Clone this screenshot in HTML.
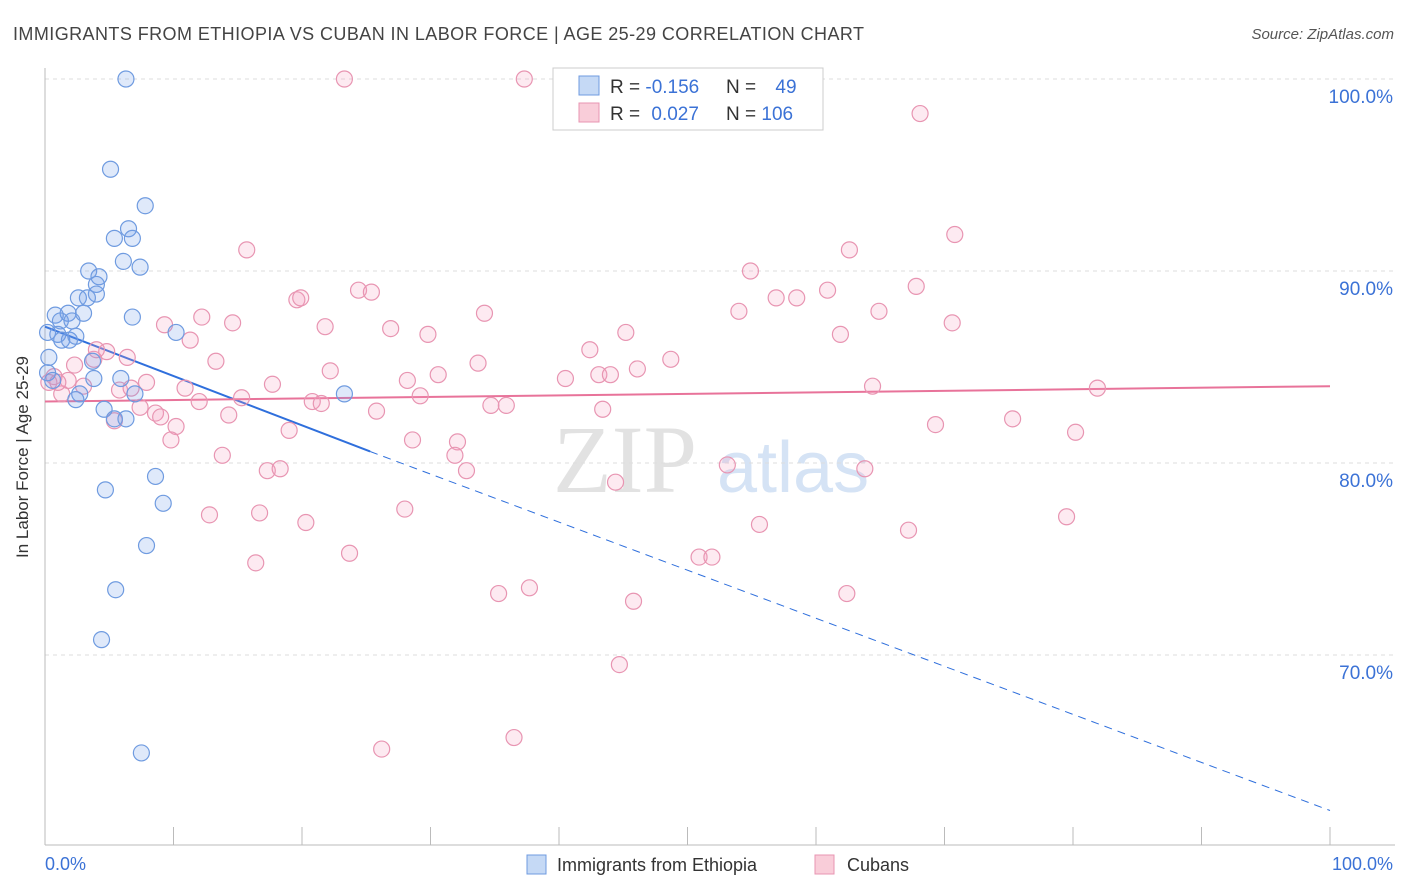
<!DOCTYPE html>
<html><head><meta charset="utf-8">
<style>
body{margin:0;background:#fff;font-family:"Liberation Sans",sans-serif;}
svg{display:block}
</style></head>
<body>
<svg id="chart" width="1406" height="892" viewBox="0 0 1406 892">
<text x="13" y="40" font-size="18" fill="#444" textLength="851" lengthAdjust="spacing">IMMIGRANTS FROM ETHIOPIA VS CUBAN IN LABOR FORCE | AGE 25-29 CORRELATION CHART</text>
<text x="1394" y="39" font-size="15" fill="#555" font-style="italic" text-anchor="end">Source: ZipAtlas.com</text>
<g>
<text x="553" y="492" font-size="96" font-family="Liberation Serif,serif" fill="#e2e2e2">ZIP</text>
<text x="717" y="492" font-size="72" fill="#d5e3f5">atlas</text>
</g>
<g id="grid"></g>
<g id="axes"></g>
<g id="trends"></g>
<g id="points"></g>
<text x="28" y="457" font-size="17" fill="#333" text-anchor="middle" transform="rotate(-90 28 457)">In Labor Force | Age 25-29</text>
<g>
<rect x="553" y="68" width="270" height="62" fill="#fff" stroke="#ccc"/>
<rect x="579" y="76" width="20" height="19" fill="#c5d9f5" stroke="#6f9be0"/>
<rect x="579" y="103" width="20" height="19" fill="#f9cdd9" stroke="#e895b2"/>
<text x="610" y="93" font-size="19" fill="#333">R = <tspan fill="#3b72d6">-0.156</tspan></text>
<text x="726" y="93" font-size="19" fill="#333">N = <tspan fill="#3b72d6" dx="14">49</tspan></text>
<text x="610" y="120" font-size="19" fill="#333">R = <tspan fill="#3b72d6" dx="6">0.027</tspan></text>
<text x="726" y="120" font-size="19" fill="#333">N = <tspan fill="#3b72d6">106</tspan></text>
</g>
<g>
<rect x="527" y="855" width="19" height="19" fill="#c5d9f5" stroke="#6f9be0"/>
<text x="557" y="871" font-size="18" fill="#333">Immigrants from Ethiopia</text>
<rect x="815" y="855" width="19" height="19" fill="#f9cdd9" stroke="#e895b2"/>
<text x="847" y="871" font-size="18" fill="#333">Cubans</text>
</g>
</svg>
<script>
const blueX=[6.3,5.1,7.8,6.5,5.4,6.8,6.1,7.4,3.4,4.2,4.0,4.0,2.6,3.3,1.8,3.0,0.8,1.2,2.1,6.8,0.2,1.0,1.3,1.9,2.4,10.2,0.3,3.7,3.8,5.9,7.0,2.7,2.4,4.6,5.4,6.3,23.3,8.6,4.7,9.2,7.9,5.5,4.4,7.5,0.2,0.6];
const blueY=[100,95.3,93.4,92.2,91.7,91.7,90.5,90.2,90.0,89.7,89.3,88.8,88.6,88.6,87.8,87.8,87.7,87.4,87.4,87.6,86.8,86.7,86.4,86.4,86.6,86.8,85.5,85.3,84.4,84.4,83.6,83.6,83.3,82.8,82.3,82.3,83.6,79.3,78.6,77.9,75.7,73.4,70.8,64.9,84.7,84.3];
const pinkX=[23.3,37.3,68.1,70.8,15.7,62.6,54.9,24.4,25.4,19.6,19.9,56.9,58.5,60.9,67.8,54.0,64.9,12.2,14.6,21.8,9.3,26.9,29.8,34.2,45.2,61.9,70.6,11.3,42.4,48.7,33.7,4.8,6.4,2.3,3.8,13.3,22.2,30.6,46.1,43.1,44.0,40.5,28.2,17.7,10.9,7.9,5.8,6.7,64.4,81.9,0.7,0.3,1.8,3.0,1.3,15.3,29.2,20.8,21.5,12.0,25.8,14.3,8.6,9.0,7.4,5.4,34.7,35.9,43.4,75.3,69.3,80.2,19.0,10.2,9.8,28.6,32.1,31.9,13.8,17.3,18.3,32.8,53.1,63.8,44.4,12.8,16.7,28.0,20.3,55.6,79.5,67.2,23.7,16.4,50.9,51.9,37.7,35.3,62.4,45.8,44.7,26.2,36.5,4.0,1.0];
const pinkY=[100,100,98.2,91.9,91.1,91.1,90.0,89.0,88.9,88.5,88.6,88.6,88.6,89.0,89.2,87.9,87.9,87.6,87.3,87.1,87.2,87.0,86.7,87.8,86.8,86.7,87.3,86.4,85.9,85.4,85.2,85.8,85.5,85.1,85.4,85.3,84.8,84.6,84.9,84.6,84.6,84.4,84.3,84.1,83.9,84.2,83.8,83.9,84.0,83.9,84.5,84.2,84.3,84.0,83.6,83.4,83.5,83.2,83.1,83.2,82.7,82.5,82.6,82.4,82.9,82.2,83.0,83.0,82.8,82.3,82.0,81.6,81.7,81.9,81.2,81.2,81.1,80.4,80.4,79.6,79.7,79.6,79.9,79.7,79.0,77.3,77.4,77.6,76.9,76.8,77.2,76.5,75.3,74.8,75.1,75.1,73.5,73.2,73.2,72.8,69.5,65.1,65.7,85.9,84.2];
const yTicks=[100,90,80,70];
const yTickLabels=["100.0%","90.0%","80.0%","70.0%"];
const xTickLabels=["0.0%","100.0%"];
const blueTrend=[87.1,80.6,61.9];
const blueSolidEnd=25.3;
const pinkTrend=[83.2,84.0];

const NS="http://www.w3.org/2000/svg";
const X0=45,X1=1330,Ytop=79,pxPer=19.2;
const sx=v=>X0+(X1-X0)*v/100;
const sy=v=>Ytop+(100-v)*pxPer;
function mk(tag,attrs,parent){const e=document.createElementNS(NS,tag);for(const k in attrs)e.setAttribute(k,attrs[k]);parent.appendChild(e);return e;}
const grid=document.getElementById('grid'),axes=document.getElementById('axes'),trends=document.getElementById('trends'),pts=document.getElementById('points');
yTicks.forEach((t,i)=>{
  const l=mk('line',{x1:45,x2:1395,y1:sy(t),y2:sy(t),stroke:'#ddd','stroke-dasharray':'4,4'},grid);
  
  
  const tx=mk('text',{x:1393,y:sy(t)+24,'font-size':19,fill:'#3b72d6','text-anchor':'end'},axes);
  tx.textContent=yTickLabels[i];
  
  
});
const ya=mk('line',{x1:45,x2:45,y1:68,y2:845,stroke:'#bbb'},axes);


const xa=mk('line',{x1:45,x2:1395,y1:845,y2:845,stroke:'#bbb'},axes);


for(let i=0;i<=10;i++){
  const t=mk('line',{x1:sx(i*10),x2:sx(i*10),y1:827,y2:845,stroke:'#bbb'},axes);
  
  
}
const xl0=mk('text',{x:45,y:870,'font-size':18,fill:'#3b72d6'},axes);xl0.textContent=xTickLabels[0];


const xl1=mk('text',{x:1393,y:870,'font-size':18,fill:'#3b72d6','text-anchor':'end'},axes);xl1.textContent=xTickLabels[1];



function dots(xs,ys,fill,stroke,name){
  xs.forEach((x,i)=>{
    const c=mk('circle',{cx:sx(x),cy:sy(ys[i]),r:8,fill:fill,stroke:stroke,'stroke-width':1.2},pts);
    
    
  });
}
dots(pinkX,pinkY,'rgba(244,160,190,0.22)','#e895b2','point-cubans');
dots(blueX,blueY,'rgba(110,155,230,0.22)','#6f9be0','point-ethiopia');

const bs=mk('line',{x1:sx(0),y1:sy(blueTrend[0]),x2:sx(blueSolidEnd),y2:sy(blueTrend[1]),stroke:'#2f6fdc','stroke-width':2},trends);


const bd=mk('line',{x1:sx(blueSolidEnd),y1:sy(blueTrend[1]),x2:sx(100),y2:sy(blueTrend[2]),stroke:'#2f6fdc','stroke-width':1,'stroke-dasharray':'8,6'},trends);


const pt=mk('line',{x1:sx(0),y1:sy(pinkTrend[0]),x2:sx(100),y2:sy(pinkTrend[1]),stroke:'#e8739a','stroke-width':2},trends);


</script>
</body></html>
